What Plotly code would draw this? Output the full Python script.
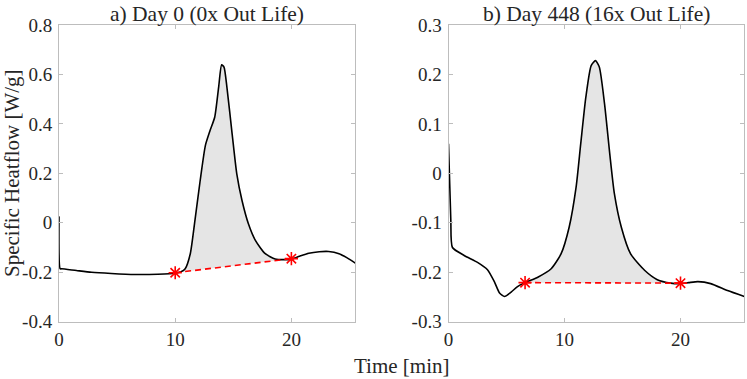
import numpy as np
import plotly.graph_objects as go

# ---- data ----
# a) Day 0
time_a = [0.0, 0.1, 0.23, 1.5, 2.8, 4.5, 6.55, 8.5, 10.0, 10.5, 10.86, 11.3, 11.7, 12.15,
          12.6, 13.0, 13.4, 13.74, 14.0, 14.2, 14.45, 14.9, 15.3, 15.75, 16.3, 16.9,
          17.75, 18.6, 19.3, 20.0, 20.7, 21.5, 22.4, 23.2, 24.1, 24.8, 25.5]
flow_a = [0.026, -0.186, -0.186, -0.193, -0.2, -0.205, -0.209, -0.208, -0.204, -0.198,
          -0.186, -0.125, 0.01, 0.171, 0.313, 0.373, 0.427, 0.549, 0.639, 0.63, 0.549,
          0.36, 0.198, 0.09, -0.004, -0.071, -0.125, -0.146, -0.149, -0.147, -0.135,
          -0.123, -0.117, -0.116, -0.125, -0.142, -0.163]
base_a_t = [10.0, 20.0]
base_a_y = [-0.202, -0.145]

# b) Day 448
time_b = [0.0, 0.2, 0.34, 1.35, 2.5, 3.36, 3.97, 4.4, 4.83, 5.4, 5.95, 6.6, 7.7, 8.85,
          9.7, 10.4, 11.0, 11.4, 11.84, 12.3, 12.67, 13.0, 13.45, 13.9, 14.3, 14.9,
          15.7, 16.9, 18.0, 19.17, 20.0, 20.7, 21.5, 22.6, 24.05, 25.5]
flow_b = [0.06, -0.095, -0.15, -0.166, -0.18, -0.195, -0.22, -0.242, -0.249, -0.24,
          -0.229, -0.221, -0.21, -0.193, -0.163, -0.109, -0.028, 0.06, 0.154, 0.218,
          0.228, 0.215, 0.141, 0.04, -0.041, -0.109, -0.163, -0.196, -0.215, -0.222,
          -0.223, -0.221, -0.219, -0.223, -0.237, -0.249]
base_b_t = [6.6, 20.0]
base_b_y = [-0.221, -0.222]

titles = ["a) Day 0 (0x Out Life)", "b) Day 448 (16x Out Life)"]
x_ticks = [0, 10, 20]
y_ticks_a = [-0.4, -0.2, 0, 0.2, 0.4, 0.6, 0.8]
y_ticks_b = [-0.3, -0.2, -0.1, 0, 0.1, 0.2, 0.3]

FONT = "Liberation Serif, Times New Roman, serif"
TXT = "#262626"
AX = "#bdbdbd"

W, H = 747, 379


def fx(px):
    return px / W


def fy(py):
    return 1 - py / H


def label(v):
    # keep the ASCII hyphen for negatives, as in the reference
    return f"{v:g}"


def add_panel(fig, t, y, bt, by, xa, ya):
    t = np.array(t)
    y = np.array(y)
    inside = (t > bt[0]) & (t < bt[1])
    px = [bt[0]] + t[inside].tolist() + [bt[1], bt[0]]
    py = [by[0]] + y[inside].tolist() + [by[1], by[0]]
    fig.add_trace(go.Scatter(x=px, y=py, fill="toself", fillcolor="#e5e5e5",
                             mode="lines", line=dict(width=0), showlegend=False,
                             xaxis=xa, yaxis=ya, hoverinfo="skip"))
    fig.add_trace(go.Scatter(x=t, y=y, mode="lines", showlegend=False,
                             line=dict(color="black", width=1.6, shape="spline", smoothing=0.6),
                             xaxis=xa, yaxis=ya))
    fig.add_trace(go.Scatter(x=bt, y=by, mode="lines+markers", showlegend=False,
                             line=dict(color="#ff0000", width=1.6, dash="6px,4px"),
                             marker=dict(symbol="asterisk-open", size=11,
                                         line=dict(color="#ff0000", width=1.6)),
                             xaxis=xa, yaxis=ya))


fig = go.Figure()
add_panel(fig, time_a, flow_a, base_a_t, base_a_y, "x", "y")
add_panel(fig, time_b, flow_b, base_b_t, base_b_y, "x2", "y2")

axis_common = dict(showline=True, linecolor=AX, linewidth=1, mirror="ticks",
                   ticks="inside", ticklen=4, tickcolor=AX, showgrid=False,
                   zeroline=False, automargin=False,
                   tickfont=dict(family=FONT, size=19, color=TXT))
ydom = [fy(321.7), fy(25)]

fig.update_layout(
    template="none",
    width=W, height=H,
    margin=dict(l=0, r=0, t=0, b=0, pad=0),
    paper_bgcolor="white", plot_bgcolor="white",
    font=dict(family=FONT, color=TXT),
    xaxis=dict(axis_common, domain=[fx(59), fx(355.3)], range=[0, 25.5],
               tickvals=x_ticks, ticktext=[label(v) for v in x_ticks], anchor="y"),
    yaxis=dict(axis_common, domain=ydom, range=[-0.4, 0.8],
               tickvals=y_ticks_a, ticktext=[label(v) for v in y_ticks_a],
               anchor="x", ticklabelstandoff=2),
    xaxis2=dict(axis_common, domain=[fx(448.5), fx(744.3)], range=[0, 25.5],
                tickvals=x_ticks, ticktext=[label(v) for v in x_ticks], anchor="y2"),
    yaxis2=dict(axis_common, domain=ydom, range=[-0.3, 0.3],
                tickvals=y_ticks_b, ticktext=[label(v) for v in y_ticks_b],
                anchor="x2", ticklabelstandoff=2),
)

ann = dict(xref="paper", yref="paper", showarrow=False, xanchor="center", yanchor="middle")
fig.add_annotation(text=titles[0], x=fx(207), y=fy(14),
                   font=dict(family=FONT, size=21.5, color=TXT), **ann)
fig.add_annotation(text=titles[1], x=fx(596.5), y=fy(14),
                   font=dict(family=FONT, size=21.5, color=TXT), **ann)
fig.add_annotation(text="Specific Heatflow [W/g]", x=fx(12), y=fy(173), textangle=-90,
                   font=dict(family=FONT, size=21, color=TXT), **ann)
fig.add_annotation(text="Time [min]", x=fx(401), y=fy(366),
                   font=dict(family=FONT, size=21, color=TXT), **ann)

# drop the default 8px body margin so the figure fills the window
fig.write_html("out.html", config={"displayModeBar": False},
               post_script="document.body.style.margin='0px';")
